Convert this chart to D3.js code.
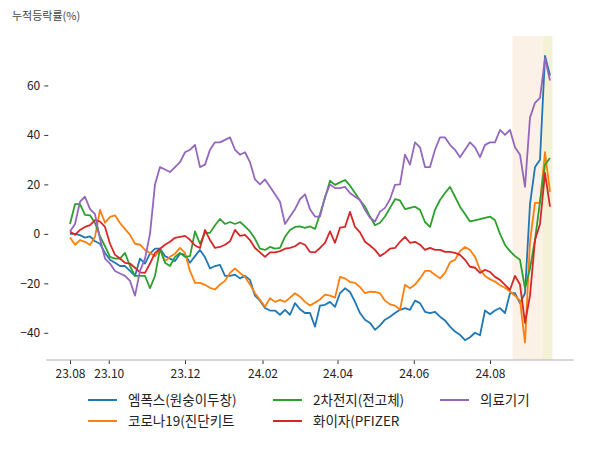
<!DOCTYPE html>
<html>
<head>
<meta charset="utf-8">
<script src="https://cdn.jsdelivr.net/npm/d3@7"></script>
<style>
  body { margin: 0; background: #fff; }
  text { font-family: "Noto Sans CJK KR", "Noto Sans", sans-serif; }
</style>
</head>
<body>
<div id="chart"></div>
<script>
//set the dimensions of the chart
const width = 600;
const height = 450;

//series names, same order as the legend (column by column)
const seriesNames = ["엠폭스(원숭이두창)", "코로나19(진단키트", "2차전지(전고체)", "화이자(PFIZER", "의료기기"];
const seriesColors = ["#1f77b4", "#ff7f0e", "#2ca02c", "#d62728", "#9467bd"];

//one point every 4 days starting 2023-08-31
const startDate = new Date(2023, 7, 31);
const stepDays = 4;

//cumulative change (%)
const mpox = [0, 0, -0.5, -1.5, -1, -3, -4, -7.7, -10.5, -11.7,
  -13, -13, -15, -17, -10, -12, -8, -6, -6, -9,
  -10, -11, -8, -8.5, -11.7, -9, -6.5, -9.5, -14, -13,
  -12.5, -17, -17, -16.5, -18, -17, -18.6, -25, -27, -30,
  -31, -31, -32.7, -30.7, -32.7, -28, -30.5, -32, -32, -37.5,
  -29, -28.7, -27.5, -29.5, -24, -22, -23.5, -27.5, -32, -34.7,
  -36, -38.8, -37, -34.7, -33.5, -32, -30.7, -30, -30.7, -27,
  -28, -31.5, -32, -31.5, -33.5, -35, -37.5, -39.5, -40.8, -43,
  -41.8, -40, -41, -31, -32.5, -31, -30, -32, -24, -24,
  -28, -24, 12, 27, 30, 72, 64];

const corona = [-1.5, -4.4, -2.5, -3.2, -4.5, -1.2, 9.7, 4.5, 6.9, 7.5,
  4.4, 2, -0.4, -4, -4.4, -6.5, -7.7, -9, -6.5, -11,
  -9.3, -8, -5.7, -7.7, -15, -19.8, -19.8, -20.6, -21.8, -22.5,
  -20.5, -19, -15.8, -14, -15.8, -17.4, -20.5, -24, -26.7, -29.5,
  -26, -27.5, -26.7, -27.5, -25.8, -24, -25.4, -27.5, -29, -27.8,
  -26.5, -24.6, -25, -25.8, -17.4, -18, -19.5, -19.8, -21.5, -24,
  -23.4, -23.5, -24, -27, -28.5, -29, -30.7, -20.6, -22, -20.5,
  -18, -15, -15, -16.5, -18, -15.8, -11.5, -10.5, -7, -5.3,
  -6.5, -9.3, -14.5, -17, -18.3, -19.3, -20.8, -21.8, -23.3, -25,
  -27, -44, -3, 12.5, 12.5, 33, 17];

const battery = [4, 12, 12, 7.7, 7.5, 4.4, -1, -5, -9.3, -10,
  -10, -7.7, -13, -17, -17, -17, -22, -17, -6, -11.7,
  -13, -9.3, -7.7, -9.3, -9, 1, -4, 0.4, 0.4, 3.5,
  6, 4, 4.8, 4, 4.8, 3, 1, -2, -6, -6.5,
  -5.3, -6, -5.7, -1.2, 1.6, 2.8, 3, 2.4, 3, 2,
  8, 14.5, 21.5, 19.8, 20.8, 21.8, 19.5, 16.5, 13.5, 11,
  7, 3.5, 4.5, 7, 10.5, 14, 13.5, 10, 10.5, 11,
  9.7, 4.8, 2.8, 9.7, 13.7, 16.5, 19, 15, 11, 8,
  5, 5.5, 6, 6.5, 7, 5.5, 0, -4.5, -7, -9,
  -10.5, -22, -14, -2.4, 13, 28, 30.7];

const pfizer = [1, -0.4, 1.6, 2.8, 3.5, 5.6, 5, 2.8, -4, -8.5,
  -10, -11.7, -12, -13.7, -15.6, -15.8, -12, -7.7, -6, -4.4,
  -3.2, -1.6, -1.2, -0.8, -2.4, -4.7, -5.7, 1.6, -2.5, -5.7,
  -5.3, -4.4, -3, 1.6, -0.8, -0.4, -2.5, -5.7, -7.5, -9.3,
  -7.5, -7.5, -7, -6, -5.7, -5, -3.6, -4.4, -7.3, -7.5,
  -5.7, -3.6, 1, -3.6, 2.5, 2.8, 8.9, 2.8, 0.6, -3.2,
  -4.7, -6.5, -9, -7.7, -6, -5.7, -3.2, -1.2, -3.6, -3.2,
  -4.4, -6.5, -5.7, -6.5, -6.5, -7.3, -7.3, -7.7, -8.5, -10.5,
  -13.3, -13.7, -15.8, -14.5, -15.4, -17.4, -18.6, -20.6, -22.6, -17,
  -20.5, -36, -25, -2.5, 4, 24.6, 11];

const medical = [1, 4, 13, 15, 10, 8, -2, -10, -12, -15,
  -16, -17, -19, -25, -15, -10, 0, 20, 27, 26,
  25, 27, 29, 33, 34, 36, 27, 28, 34, 37,
  37, 38, 39, 34, 32, 33, 29, 22, 20, 22,
  19, 16, 13, 4, 7, 10, 14, 16, 10, 7,
  7, 15, 20, 18.5, 18.5, 19, 16.5, 15, 13.7, 9.7,
  6.5, 5, 9, 10.5, 14, 19.8, 20, 32, 28, 37,
  35, 27, 27, 34, 39, 39, 36, 34, 31, 34,
  37, 35, 31, 36, 37, 37, 42, 40, 42, 35,
  32, 19, 47, 53, 55, 71, 62];

//x axis ticks and labels
const tickDates = [new Date(2023, 7, 31), new Date(2023, 9, 1), new Date(2023, 11, 1),
  new Date(2024, 1, 1), new Date(2024, 3, 1), new Date(2024, 5, 1), new Date(2024, 7, 1)];
const tickLabels = ["23.08", "23.10", "23.12", "24.02", "24.04", "24.06", "24.08"];
const yTicks = [-40, -20, 0, 20, 40, 60];

//highlighted periods
const bands = [
  { from: new Date(2024, 7, 19), to: new Date(2024, 8, 12), color: "#fbf1e7" },
  { from: new Date(2024, 8, 12), to: new Date(2024, 8, 20), color: "#f5f1d7" },
];

const allSeries = [mpox, corona, battery, pfizer, medical];
const dates = mpox.map((d, i) => d3.timeDay.offset(startDate, i * stepDays));

const svg = d3
  .select("#chart")
  .append("svg")
  .attr("width", width)
  .attr("height", height);

//scales, with matplotlib-like 5% padding around the data
const xScale = d3
  .scaleTime()
  .domain(d3.extent(dates))
  .range([70, 550]);

const yScale = d3
  .scaleLinear()
  .domain([-51, 80])
  .range([360, 36]);

const xPad = d3.timeDay.offset(dates[0], -19);
const xEnd = d3.timeDay.offset(dates[dates.length - 1], 19);

//shaded bands
svg
  .selectAll(".band")
  .data(bands)
  .enter()
  .append("rect")
  .attr("class", "band")
  .attr("x", (d) => xScale(d.from))
  .attr("width", (d) => xScale(d.to) - xScale(d.from))
  .attr("y", yScale(80))
  .attr("height", yScale(-51) - yScale(80))
  .attr("fill", (d) => d.color);

//x axis
const xAxis = svg
  .append("g")
  .attr("transform", `translate(0, ${yScale(-51)})`)
  .call(
    d3.axisBottom(xScale)
      .tickValues(tickDates)
      .tickFormat((d, i) => tickLabels[i])
      .tickSizeOuter(0)
      .tickSize(4)
  );
xAxis.select(".domain").remove();
xAxis
  .append("line")
  .attr("x1", xScale(xPad))
  .attr("x2", xScale(xEnd))
  .attr("stroke", "#b0b0b0");
xAxis.selectAll(".tick line").attr("stroke", "#333");
xAxis.selectAll(".tick text").attr("fill", "#222").attr("font-size", "12px").attr("dy", "0.9em");

//y axis (no spine)
const yAxis = svg
  .append("g")
  .attr("transform", `translate(${xScale(xPad) + 2}, 0)`)
  .call(d3.axisLeft(yScale).tickValues(yTicks).tickSize(4).tickPadding(4));
yAxis.select(".domain").remove();
yAxis.selectAll(".tick line").attr("stroke", "#333");
yAxis.selectAll(".tick text").attr("fill", "#222").attr("font-size", "12px");

//lines
const line = d3
  .line()
  .x((d, i) => xScale(dates[i]))
  .y((d) => yScale(d));

svg
  .selectAll(".series")
  .data(allSeries)
  .enter()
  .append("path")
  .attr("class", "series")
  .attr("d", (d) => line(d))
  .attr("fill", "none")
  .attr("stroke", (d, i) => seriesColors[i])
  .attr("stroke-width", 1.8)
  .attr("stroke-linejoin", "round");

//title at the top left
svg
  .append("text")
  .attr("x", 12)
  .attr("y", 20)
  .attr("font-size", "11px")
  .attr("fill", "#444")
  .text("누적등락률(%)");

//legend, 3 columns, filled column by column
const legendCols = [88, 273, 440];
const legendRows = [400, 421];
const legend = svg
  .selectAll(".legend")
  .data(seriesNames)
  .enter()
  .append("g")
  .attr("class", "legend")
  .attr("transform", (d, i) => `translate(${legendCols[Math.floor(i / 2)]}, ${legendRows[i % 2]})`);

legend
  .append("line")
  .attr("x1", 0)
  .attr("x2", 29)
  .attr("stroke", (d, i) => seriesColors[i])
  .attr("stroke-width", 2);

legend
  .append("text")
  .attr("x", 40)
  .attr("dy", "0.35em")
  .attr("font-size", "13.5px")
  .attr("fill", "#222")
  .text((d) => d);
</script>
</body>
</html>
